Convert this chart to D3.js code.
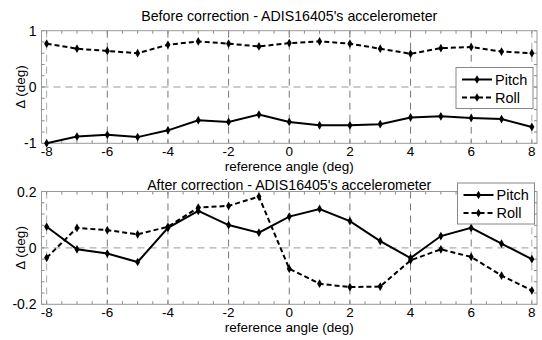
<!DOCTYPE html>
<html>
<head>
<meta charset="utf-8">
<script src="https://cdn.jsdelivr.net/npm/d3@7"></script>
<style>
  body { margin: 0; background: #fff; }
  svg { display: block; font-family: 'Liberation Sans', Arial, sans-serif; }
</style>
</head>
<body>
<svg width="542" height="340"></svg>
<script>
const angles = [-8, -7, -6, -5, -4, -3, -2, -1, 0, 1, 2, 3, 4, 5, 6, 7, 8]

// before correction
const pitchBefore = [-1.0, -0.88, -0.85, -0.89, -0.77, -0.59, -0.62, -0.49, -0.62, -0.68, -0.68, -0.66, -0.54, -0.52, -0.55, -0.57, -0.71]
const rollBefore = [0.77, 0.68, 0.64, 0.60, 0.75, 0.81, 0.77, 0.72, 0.78, 0.81, 0.77, 0.68, 0.59, 0.69, 0.71, 0.63, 0.60]

// after correction
const pitchAfter = [0.075, -0.005, -0.02, -0.05, 0.071, 0.131, 0.081, 0.054, 0.111, 0.138, 0.095, 0.024, -0.036, 0.042, 0.071, 0.015, -0.04]
const rollAfter = [-0.035, 0.071, 0.063, 0.048, 0.075, 0.143, 0.149, 0.182, -0.074, -0.127, -0.139, -0.137, -0.044, -0.005, -0.032, -0.098, -0.151]

const xTicks = [-8, -6, -4, -2, 0, 2, 4, 6, 8]

let svg = d3.select('svg')

const drawPanel = (opt) => {
	let x = d3.scaleLinear().domain([-8.17, 8.17]).range([41.5, 537])
	let y = d3.scaleLinear().domain(opt.yDomain).range([opt.bottom, opt.top])
	let g = svg.append('g')
	let x0 = x.range()[0], x1 = x.range()[1]

	// grid
	g.selectAll('.gx').data(xTicks).enter()
	.append('line')
	.attr('x1', d => x(d)).attr('x2', d => x(d))
	.attr('y1', opt.top).attr('y2', opt.bottom)
	.attr('stroke', d => Math.abs(d) == 8 ? '#aaa' : '#777')
	.attr('stroke-dasharray', '7,5')
	g.append('line')
	.attr('x1', x0).attr('x2', x1)
	.attr('y1', y(0)).attr('y2', y(0))
	.attr('stroke', '#999').attr('stroke-dasharray', '7,5')

	// minor ticks on all four sides
	let xm = d3.range(-8, 8.01, 0.5)
	let ym = d3.range(opt.yDomain[0], opt.yDomain[1] + 1e-9, opt.yMinor)
	g.selectAll('.tb').data(xm).enter().append('line')
	.attr('x1', d => x(d)).attr('x2', d => x(d))
	.attr('y1', opt.bottom).attr('y2', opt.bottom - 3)
	.attr('stroke', '#888')
	g.selectAll('.tt').data(xm).enter().append('line')
	.attr('x1', d => x(d)).attr('x2', d => x(d))
	.attr('y1', opt.top).attr('y2', opt.top + 3)
	.attr('stroke', '#888')
	g.selectAll('.tl').data(ym).enter().append('line')
	.attr('x1', x0).attr('x2', x0 + 3)
	.attr('y1', d => y(d)).attr('y2', d => y(d))
	.attr('stroke', '#888')
	g.selectAll('.tr').data(ym).enter().append('line')
	.attr('x1', x1).attr('x2', x1 - 3)
	.attr('y1', d => y(d)).attr('y2', d => y(d))
	.attr('stroke', '#888')

	// box
	g.append('rect')
	.attr('x', x0).attr('y', opt.top)
	.attr('width', x1 - x0).attr('height', opt.bottom - opt.top)
	.attr('fill', 'none').attr('stroke', '#999')

	// tick labels
	g.selectAll('.xl').data(xTicks).enter().append('text')
	.attr('x', d => x(d)).attr('y', opt.bottom + 13)
	.attr('text-anchor', 'middle').attr('font-size', 13.5)
	.text(d => d)
	g.selectAll('.yl').data(opt.yTicks).enter().append('text')
	.attr('x', x0 - 5).attr('y', d => y(d) + 5)
	.attr('text-anchor', 'end').attr('font-size', 14)
	.text(d => d)

	// titles
	g.append('text')
	.attr('x', (x0 + x1) / 2).attr('y', opt.titleY)
	.attr('text-anchor', 'middle').attr('font-size', 14.2)
	.text(opt.title)
	g.append('text')
	.attr('x', (x0 + x1) / 2).attr('y', opt.bottom + 28)
	.attr('text-anchor', 'middle').attr('font-size', 13.5)
	.text('reference angle (deg)')
	g.append('text')
	.attr('transform', `translate(25, ${(opt.top + opt.bottom) / 2}) rotate(-90)`)
	.attr('text-anchor', 'middle').attr('font-size', 13.5)
	.text('Δ (deg)')

	// series
	let series = [
		{ name: 'Pitch', values: opt.pitch, dash: null },
		{ name: 'Roll', values: opt.roll, dash: '5,3' }
	]
	let line = d3.line().x((d, i) => x(angles[i])).y(d => y(d))
	let diamond = d3.symbol().type(d3.symbolDiamond).size(22)
	series.forEach(s => {
		g.append('path')
		.attr('d', line(s.values))
		.attr('fill', 'none').attr('stroke', '#000')
		.attr('stroke-width', 2)
		.attr('stroke-dasharray', s.dash)
		g.selectAll(null).data(s.values).enter()
		.append('path')
		.attr('d', diamond)
		.attr('transform', (d, i) => `translate(${x(angles[i])},${y(d)})`)
		.attr('fill', '#000')
	})

	// legend
	let lg = g.append('g').attr('transform', `translate(${opt.legend[0]},${opt.legend[1]})`)
	lg.append('rect')
	.attr('width', 77).attr('height', 41)
	.attr('fill', '#fff').attr('stroke', '#888')
	series.forEach((s, i) => {
		let ly = 12 + i * 18
		lg.append('line')
		.attr('x1', 6).attr('x2', 36).attr('y1', ly).attr('y2', ly)
		.attr('stroke', '#000').attr('stroke-width', 2)
		.attr('stroke-dasharray', s.dash)
		lg.append('path').attr('d', diamond)
		.attr('transform', `translate(21,${ly})`)
		lg.append('text')
		.attr('x', 39).attr('y', ly + 5)
		.attr('font-size', 14.5)
		.text(s.name)
	})
}

drawPanel({
	top: 30.7, bottom: 143.3, titleY: 21,
	yDomain: [-1, 1], yTicks: [-1, 0, 1], yMinor: 0.2,
	title: "Before correction - ADIS16405's accelerometer",
	pitch: pitchBefore, roll: rollBefore,
	legend: [456, 67.5]
})

drawPanel({
	top: 191.5, bottom: 304.3, titleY: 189.5,
	yDomain: [-0.2, 0.2], yTicks: [-0.2, 0, 0.2], yMinor: 0.04,
	title: "After correction - ADIS16405's accelerometer",
	pitch: pitchAfter, roll: rollAfter,
	legend: [457.5, 183]
})
</script>
</body>
</html>
